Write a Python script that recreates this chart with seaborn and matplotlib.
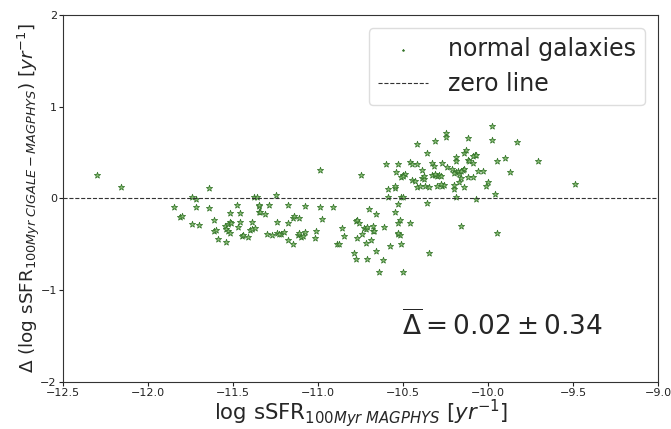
import numpy as np
import pandas as pd
import matplotlib
matplotlib.use("Agg")
import matplotlib.pyplot as plt
import seaborn as sns

x_vals = [-12.30, -12.16, -11.85, -11.81, -11.80, -11.74, -11.72, -11.72, -11.74, -11.70,
          -11.64, -11.64, -11.61, -11.59, -11.61, -11.60, -11.54, -11.55, -11.54, -11.53,
          -11.52, -11.51, -11.53, -11.52, -11.52, -11.48, -11.46, -11.46, -11.47, -11.45,
          -11.44, -11.41, -11.39, -11.40, -11.39, -11.37, -11.38, -11.36, -11.35, -11.35,
          -11.25, -11.35, -11.34, -11.31, -11.29, -11.18, -11.15, -11.14, -11.11, -11.24,
          -11.18, -11.30, -11.27, -11.24, -11.22, -11.20, -11.23, -11.18, -11.15, -11.12,
          -11.10, -11.09, -11.08, -11.11, -11.08, -11.02, -11.01, -10.99, -10.99, -10.98,
          -10.91, -10.89, -10.88, -10.86, -10.85, -10.78, -10.77, -10.79, -10.78, -10.76,
          -10.77, -10.75, -10.73, -10.72, -10.71, -10.74, -10.72, -10.71, -10.70, -10.69,
          -10.68, -10.67, -10.68, -10.66, -10.66, -10.64, -10.62, -10.61, -10.60, -10.59,
          -10.59, -10.58, -10.55, -10.55, -10.55, -10.54, -10.53, -10.53, -10.53, -10.52,
          -10.53, -10.53, -10.51, -10.50, -10.52, -10.51, -10.50, -10.50, -10.49, -10.51,
          -10.50, -10.46, -10.45, -10.45, -10.43, -10.42, -10.42, -10.42, -10.46, -10.39,
          -10.38, -10.39, -10.36, -10.37, -10.36, -10.35, -10.33, -10.32, -10.33, -10.31,
          -10.30, -10.31, -10.29, -10.28, -10.27, -10.27, -10.26, -10.25, -10.25, -10.24,
          -9.98, -10.12, -9.98, -9.83, -10.14, -10.13, -10.08, -10.09, -10.07, -10.19,
          -10.19, -10.12, -10.11, -10.09, -9.95, -9.90, -9.71, -10.21, -10.19, -10.18,
          -10.20, -10.15, -10.14, -10.17, -10.16, -10.06, -10.03, -9.87, -10.38, -10.31,
          -10.40, -10.35, -10.30, -10.28, -10.20, -10.17, -10.16, -10.20, -10.14, -10.12,
          -10.09, -10.01, -10.00, -9.96, -10.19, -10.07, -9.49, -10.16, -9.95]
y_vals = [0.25, 0.12, -0.09, -0.20, -0.19, 0.01, -0.01, -0.09, -0.28, -0.29,
          0.11, -0.11, -0.24, -0.44, -0.35, -0.34, -0.48, -0.30, -0.33, -0.28,
          -0.26, -0.27, -0.36, -0.38, -0.16, -0.07, -0.16, -0.26, -0.31, -0.41,
          -0.40, -0.42, -0.26, -0.34, -0.33, -0.32, 0.01, 0.02, -0.08, -0.15,
          0.04, -0.07, -0.15, -0.17, -0.07, -0.07, -0.21, -0.19, -0.21, -0.26,
          -0.27, -0.39, -0.40, -0.38, -0.39, -0.37, -0.39, -0.45, -0.50, -0.40,
          -0.42, -0.41, -0.08, -0.38, -0.37, -0.43, -0.36, 0.31, -0.09, -0.22,
          -0.09, -0.50, -0.50, -0.32, -0.41, -0.25, -0.24, -0.59, -0.66, -0.27,
          -0.43, 0.26, -0.32, -0.33, -0.31, -0.39, -0.49, -0.66, -0.12, -0.45,
          -0.36, -0.35, -0.30, -0.17, -0.57, -0.80, -0.67, -0.31, 0.38, 0.10,
          0.01, -0.52, 0.11, 0.14, -0.15, 0.29, 0.38, -0.06, -0.39, -0.40,
          -0.38, -0.27, 0.01, 0.01, -0.23, -0.50, -0.80, 0.25, 0.27, 0.23,
          0.24, 0.40, 0.38, 0.20, 0.19, 0.59, 0.38, 0.12, -0.27, 0.22,
          0.21, 0.31, 0.49, 0.13, -0.05, -0.59, 0.39, 0.35, 0.25, 0.26,
          0.24, 0.63, 0.25, 0.24, 0.39, 0.14, 0.15, 0.71, 0.67, 0.34,
          0.79, 0.66, 0.64, 0.61, 0.50, 0.53, 0.47, 0.46, 0.47, 0.45,
          0.41, 0.42, 0.41, 0.39, 0.41, 0.44, 0.41, 0.32, 0.29, 0.30,
          0.28, 0.31, 0.32, 0.27, 0.30, 0.30, 0.30, 0.29, 0.24, 0.27,
          0.13, 0.12, 0.14, 0.16, 0.10, 0.18, 0.22, 0.15, 0.12, 0.23,
          0.23, 0.13, 0.18, 0.05, 0.01, -0.01, 0.16, -0.30, -0.38]

n = min(len(x_vals), len(y_vals))
df = pd.DataFrame({"x": x_vals[:n], "y": y_vals[:n]})

x_ticks = [-12.5, -12.0, -11.5, -11.0, -10.5, -10.0, -9.5, -9.0]
y_ticks = [-2, -1, 0, 1, 2]

sns.set_style("white")
plt.rcParams['font.family'] = ['DejaVu Sans']

fig = plt.figure(figsize=(6.71, 4.29), dpi=100)
ax = fig.add_axes([0.094, 0.110, 0.887, 0.855])

sns.scatterplot(data=df, x="x", y="y", marker="*", s=22, color="#8cc278",
                edgecolor="#35752a", linewidth=0.55, ax=ax, label="normal galaxies",
                legend=False)
ax.axhline(0, color="#333333", linestyle="--", linewidth=0.8, label="zero line")

ax.set_xlim(-12.5, -9.0)
ax.set_ylim(-2, 2)
ax.set_xticks(x_ticks)
ax.set_yticks(y_ticks)
ax.tick_params(axis="both", labelsize=8, length=3, pad=1.5, direction="out",
               bottom=True, left=True, colors="#222222")
for sp in ax.spines.values():
    sp.set_color("#333333")
    sp.set_linewidth(0.8)

ax.set_xlabel(r"log sSFR$_{100Myr\ MAGPHYS}$ [$yr^{-1}$]", fontsize=15.3, labelpad=-1)
ax.set_ylabel(r"$\Delta$ (log sSFR$_{100Myr\ CIGALE-MAGPHYS}$) [$yr^{-1}$]", fontsize=13.2)
ax.yaxis.set_label_coords(-0.036, 0.5)

ax.text(-10.505, -1.39, r"$\overline{\Delta} = 0.02 \pm 0.34$", fontsize=19, va="center", ha="left")

handles, labels = ax.get_legend_handles_labels()
ax.legend(handles, labels, loc="upper right", fontsize=17, markerscale=0.3,
          handlelength=2.1, handletextpad=0.85, labelspacing=0.45, borderpad=0.4,
          borderaxespad=0, frameon=True, framealpha=1, edgecolor="#dddddd", fancybox=True,
          bbox_to_anchor=(0.978, 0.965))

fig.savefig("out.png", dpi=100)
